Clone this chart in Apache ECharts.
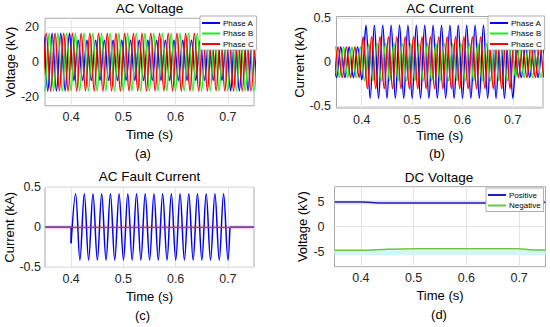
<!DOCTYPE html>
<html>
<head>
<meta charset="utf-8">
<script src="https://cdn.jsdelivr.net/npm/echarts@6/dist/echarts.min.js"></script>
<style>
html,body{margin:0;padding:0;background:#fff;}
#c{width:550px;height:327px;}
</style>
</head>
<body>
<div id="c"></div>
<script>
// ---------- data (extrema) ----------
const timeTicks = [0.4, 0.5, 0.6, 0.7];
const voltTicks = [-20, 0, 20];
const currTicks = [-0.5, 0, 0.5];
const dcTicks = [-5, 0, 5];
const phaseNames = ['Phase A', 'Phase B', 'Phase C'];
const dcNames = ['Positive', 'Negative'];

const voltA = [[0.3386,-16.5],[0.3469,16.5],[0.3553,-16.5],[0.3636,16.5],[0.3719,-16.5],[0.3803,16.5],[0.3886,-16.5],[0.3969,16.5],[0.4053,-10.5],[0.4136,12.5],[0.4219,-10.5],[0.4303,12.5],[0.4386,-10.5],[0.4469,12.5],[0.4553,-10.5],[0.4636,12.5],[0.4719,-10.5],[0.4803,12.5],[0.4886,-10.5],[0.4969,12.5],[0.5053,-10.5],[0.5136,12.5],[0.5219,-10.5],[0.5303,12.5],[0.5386,-10.5],[0.5469,12.5],[0.5553,-10.5],[0.5636,12.5],[0.5719,-10.5],[0.5803,12.5],[0.5886,-10.5],[0.5969,12.5],[0.6053,-10.5],[0.6136,12.5],[0.6219,-10.5],[0.6303,12.5],[0.6386,-10.5],[0.6469,12.5],[0.6553,-10.5],[0.6636,12.5],[0.6719,-10.5],[0.6803,12.5],[0.6886,-10.5],[0.6969,12.5],[0.7053,-16.5],[0.7136,16.5],[0.7219,-16.5],[0.7303,16.5],[0.7386,-16.5],[0.7469,16.5],[0.7553,-16.5]];
const voltB = [[0.3414,16.5],[0.3497,-16.5],[0.3581,16.5],[0.3664,-16.5],[0.3747,16.5],[0.3831,-16.5],[0.3914,16.5],[0.3997,-16.5],[0.4081,16.5],[0.4164,-16.5],[0.4247,16.5],[0.4331,-16.5],[0.4414,16.5],[0.4497,-16.5],[0.4581,16.5],[0.4664,-16.5],[0.4747,16.5],[0.4831,-16.5],[0.4914,16.5],[0.4997,-16.5],[0.5081,16.5],[0.5164,-16.5],[0.5247,16.5],[0.5331,-16.5],[0.5414,16.5],[0.5497,-16.5],[0.5581,16.5],[0.5664,-16.5],[0.5747,16.5],[0.5831,-16.5],[0.5914,16.5],[0.5997,-16.5],[0.6081,16.5],[0.6164,-16.5],[0.6247,16.5],[0.6331,-16.5],[0.6414,16.5],[0.6497,-16.5],[0.6581,16.5],[0.6664,-16.5],[0.6747,16.5],[0.6831,-16.5],[0.6914,16.5],[0.6997,-16.5],[0.7081,16.5],[0.7164,-16.5],[0.7247,16.5],[0.7331,-16.5],[0.7414,16.5],[0.7497,-16.5],[0.7581,16.5]];
const voltC = [[0.3358,16.5],[0.3442,-16.5],[0.3525,16.5],[0.3608,-16.5],[0.3692,16.5],[0.3775,-16.5],[0.3858,16.5],[0.3942,-16.5],[0.4025,16.5],[0.4108,-16.5],[0.4192,16.5],[0.4275,-16.5],[0.4358,16.5],[0.4442,-16.5],[0.4525,16.5],[0.4608,-16.5],[0.4692,16.5],[0.4775,-16.5],[0.4858,16.5],[0.4942,-16.5],[0.5025,16.5],[0.5108,-16.5],[0.5192,16.5],[0.5275,-16.5],[0.5358,16.5],[0.5442,-16.5],[0.5525,16.5],[0.5608,-16.5],[0.5692,16.5],[0.5775,-16.5],[0.5858,16.5],[0.5942,-16.5],[0.6025,16.5],[0.6108,-16.5],[0.6192,16.5],[0.6275,-16.5],[0.6358,16.5],[0.6442,-16.5],[0.6525,16.5],[0.6608,-16.5],[0.6692,16.5],[0.6775,-16.5],[0.6858,16.5],[0.6942,-16.5],[0.7025,16.5],[0.7108,-16.5],[0.7192,16.5],[0.7275,-16.5],[0.7358,16.5],[0.7442,-16.5],[0.7525,16.5]];

const currA = [[0.3418,0.174],[0.3502,-0.174],[0.3585,0.174],[0.3668,-0.174],[0.3752,0.174],[0.3835,-0.174],[0.3918,0.174],[0.4002,-0.2],[0.4085,0.42],[0.4168,-0.41],[0.4252,0.42],[0.4335,-0.41],[0.4418,0.42],[0.4502,-0.41],[0.4585,0.42],[0.4668,-0.41],[0.4752,0.42],[0.4835,-0.41],[0.4918,0.42],[0.5002,-0.41],[0.5085,0.42],[0.5168,-0.41],[0.5252,0.42],[0.5335,-0.41],[0.5418,0.42],[0.5502,-0.41],[0.5585,0.42],[0.5668,-0.41],[0.5752,0.42],[0.5835,-0.41],[0.5918,0.42],[0.6002,-0.41],[0.6085,0.42],[0.6168,-0.41],[0.6252,0.42],[0.6335,-0.41],[0.6418,0.42],[0.6502,-0.41],[0.6585,0.42],[0.6668,-0.41],[0.6752,0.42],[0.6835,-0.41],[0.6918,0.42],[0.7002,-0.41],[0.7085,0.174],[0.7168,-0.174],[0.7252,0.174],[0.7335,-0.174],[0.7418,0.174],[0.7502,-0.174],[0.7585,0.174],[0.7668,-0.174]];
const currB = [[0.3391,-0.174],[0.3474,0.174],[0.3557,-0.174],[0.3641,0.174],[0.3724,-0.174],[0.3807,0.174],[0.3891,-0.174],[0.3974,0.174],[0.4057,-0.21],[0.4141,0.21],[0.4224,-0.21],[0.4307,0.21],[0.4391,-0.21],[0.4474,0.21],[0.4557,-0.21],[0.4641,0.21],[0.4724,-0.21],[0.4807,0.21],[0.4891,-0.21],[0.4974,0.21],[0.5057,-0.21],[0.5141,0.21],[0.5224,-0.21],[0.5307,0.21],[0.5391,-0.21],[0.5474,0.21],[0.5557,-0.21],[0.5641,0.21],[0.5724,-0.21],[0.5807,0.21],[0.5891,-0.21],[0.5974,0.21],[0.6057,-0.21],[0.6141,0.21],[0.6224,-0.21],[0.6307,0.21],[0.6391,-0.21],[0.6474,0.21],[0.6557,-0.21],[0.6641,0.21],[0.6724,-0.21],[0.6807,0.21],[0.6891,-0.21],[0.6974,0.21],[0.7057,-0.174],[0.7141,0.174],[0.7224,-0.174],[0.7307,0.174],[0.7391,-0.174],[0.7474,0.174],[0.7557,-0.174],[0.7641,0.174]];
const currC = [[0.3363,0.174],[0.3447,-0.174],[0.3530,0.174],[0.3613,-0.174],[0.3697,0.174],[0.3780,-0.174],[0.3863,0.174],[0.3947,-0.174],[0.4030,0.29],[0.4113,-0.30],[0.4197,0.29],[0.4280,-0.30],[0.4363,0.29],[0.4447,-0.30],[0.4530,0.29],[0.4613,-0.30],[0.4697,0.29],[0.4780,-0.30],[0.4863,0.29],[0.4947,-0.30],[0.5030,0.29],[0.5113,-0.30],[0.5197,0.29],[0.5280,-0.30],[0.5363,0.29],[0.5447,-0.30],[0.5530,0.29],[0.5613,-0.30],[0.5697,0.29],[0.5780,-0.30],[0.5863,0.29],[0.5947,-0.30],[0.6030,0.29],[0.6113,-0.30],[0.6197,0.29],[0.6280,-0.30],[0.6363,0.29],[0.6447,-0.30],[0.6530,0.29],[0.6613,-0.30],[0.6697,0.29],[0.6780,-0.30],[0.6863,0.29],[0.6947,-0.30],[0.7030,0.25],[0.7113,-0.174],[0.7197,0.174],[0.7280,-0.174],[0.7363,0.174],[0.7447,-0.174],[0.7530,0.174],[0.7613,-0.174]];

const faultA = [[0.4000,-0.2],[0.4085,0.42],[0.4168,-0.41],[0.4252,0.42],[0.4335,-0.41],[0.4418,0.42],[0.4502,-0.41],[0.4585,0.42],[0.4668,-0.41],[0.4752,0.42],[0.4835,-0.41],[0.4918,0.42],[0.5002,-0.41],[0.5085,0.42],[0.5168,-0.41],[0.5252,0.42],[0.5335,-0.41],[0.5418,0.42],[0.5502,-0.41],[0.5585,0.42],[0.5668,-0.41],[0.5752,0.42],[0.5835,-0.41],[0.5918,0.42],[0.6002,-0.41],[0.6085,0.42],[0.6168,-0.41],[0.6252,0.42],[0.6335,-0.41],[0.6418,0.42],[0.6502,-0.41],[0.6585,0.42],[0.6668,-0.41],[0.6752,0.42],[0.6835,-0.41],[0.6918,0.42],[0.7002,-0.41],[0.7040,0]];
const faultStep = [[0.35,0],[0.40,0],[0.40,-0.2]];
const faultTail = [[0.704,0],[0.75,0]];
const faultOther = [[0.35,0],[0.75,0]];

const dcPos = [[0.35,4.95],[0.40,4.95],[0.42,4.85],[0.44,4.75],[0.50,4.72],[0.60,4.72],[0.70,4.72],[0.72,4.85],[0.75,4.9]];
const dcNeg = [[0.35,-4.7],[0.40,-4.7],[0.45,-4.5],[0.50,-4.4],[0.60,-4.4],[0.70,-4.4],[0.72,-4.6],[0.75,-4.65]];
const dcPosRipple = [[0.35,4.85],[0.75,4.85]];
const dcNegRipple = [[0.35,-5.2],[0.75,-5.2]];

// ---------- styling ----------
const FONT = "'Liberation Sans', Arial, Helvetica, sans-serif";
const C_BLUE = '#0000ff', C_GREEN = '#1ee81e', C_RED = '#ff0000';
const C_DCPOS = '#1f1fb4', C_DCNEG = '#6cc644';

function xAx(i, max, gap) {
  return {
    gridIndex: i, type: 'value', min: 0.35, max: max,
    name: 'Time (s)', nameLocation: 'middle', nameGap: gap,
    nameTextStyle: {fontSize: 13, color: '#000', fontFamily: FONT},
    axisLine: {show: false}, axisTick: {show: false, customValues: timeTicks},
    axisLabel: {customValues: timeTicks, fontSize: 12.5, color: '#262626', fontFamily: FONT, margin: 5,
      formatter: v => v.toFixed(1)},
    splitLine: {show: true, lineStyle: {color: '#e4e4e4', width: 1}}
  };
}
function yAx(i, min, max, ticks, name, gap, margin, fmt) {
  return {
    gridIndex: i, type: 'value', min: min, max: max,
    name: name, nameLocation: 'middle', nameGap: gap,
    nameTextStyle: {fontSize: 13, color: '#000', fontFamily: FONT},
    axisLine: {show: false}, axisTick: {show: false, customValues: ticks},
    axisLabel: {customValues: ticks, fontSize: 12.5, color: '#262626', fontFamily: FONT, margin: margin, formatter: fmt},
    splitLine: {show: true, lineStyle: {color: '#e4e4e4', width: 1}}
  };
}
const fmtInt = v => String(Math.round(v));
const fmtHalf = v => (v === 0 ? '0' : String(v));

function wave(name, data, color, xi, smooth) {
  return {name: name, type: 'line', xAxisIndex: xi, yAxisIndex: xi, data: data,
    showSymbol: false, symbol: 'none', smooth: smooth, clip: true,
    color: color, lineStyle: {color: color, width: 1.5}, silent: true};
}
function legendCfg(names, left, top) {
  return {data: names, left: left, top: top, orient: 'vertical', icon: 'rect',
    itemWidth: 18, itemHeight: 2, itemGap: 2.5, selectedMode: false,
    textStyle: {fontSize: 8, color: '#000', fontFamily: FONT, padding: [0,0,0,-2]},
    backgroundColor: '#fff', borderColor: '#9a9a9a', borderWidth: 0.8, padding: [3, 3, 2, 2]};
}
function txt(text, x, y, size) {
  return {type: 'text', x: x, y: y, silent: true,
    style: {text: text, fontSize: size, fontFamily: FONT, fill: '#000', align: 'center', verticalAlign: 'middle'}};
}

const chart = echarts.init(document.getElementById('c'), null, {renderer: 'svg', width: 550, height: 327});
const gridStyle = {show: true, borderColor: '#a8a8a8', borderWidth: 1, backgroundColor: 'transparent', containLabel: false};

chart.setOption({
  animation: false,
  backgroundColor: '#fff',
  grid: [
    Object.assign({left: 45, top: 18.25, width: 209, height: 87.5}, gridStyle),
    Object.assign({left: 336.5, top: 16.5, width: 206.5, height: 91.5}, gridStyle),
    Object.assign({left: 45, top: 187.3, width: 209, height: 80}, gridStyle),
    Object.assign({left: 334.5, top: 186.7, width: 211, height: 80}, gridStyle)
  ],
  xAxis: [xAx(0, 0.75, 22), xAx(1, 0.76, 21), xAx(2, 0.75, 23), xAx(3, 0.75, 22)],
  yAxis: [
    yAx(0, -25, 25, voltTicks, 'Voltage (kV)', 25, 6, fmtInt),
    yAx(1, -0.52, 0.52, currTicks, 'Current (kA)', 26, 5.5, fmtHalf),
    yAx(2, -0.5, 0.5, currTicks, 'Current (kA)', 29, 4, fmtHalf),
    yAx(3, -8, 8, dcTicks, 'Voltage (kV)', 24, 10, fmtInt)
  ],
  legend: [legendCfg(phaseNames, 200, 16), legendCfg(phaseNames, 488, 16), legendCfg(dcNames, 486, 188)],
  graphic: [
    txt('AC Voltage', 149.5, 8.5, 13.5),
    txt('AC Current', 440, 8.5, 13.5),
    txt('AC Fault Current', 149.5, 176, 13.5),
    txt('DC Voltage', 439, 177, 13.5),
    txt('(a)', 143, 153, 13),
    txt('(b)', 437, 153, 13),
    txt('(c)', 142.5, 315, 13),
    txt('(d)', 439, 314, 13)
  ],
  series: [
    wave(phaseNames[0], voltA, C_BLUE, 0, 0.36),
    wave(phaseNames[1], voltB, C_GREEN, 0, 0.36),
    wave(phaseNames[2], voltC, C_RED, 0, 0.36),
    wave(phaseNames[0], currA, C_BLUE, 1, 0.36),
    wave(phaseNames[1], currB, C_GREEN, 1, 0.36),
    wave(phaseNames[2], currC, C_RED, 1, 0.36),
    Object.assign(wave('fault halo', faultOther, '#fbd3d3', 2, false), {lineStyle: {color: '#fbd3d3', width: 4}}),
    wave('fault A step', faultStep, C_BLUE, 2, false),
    wave('fault A', faultA, C_BLUE, 2, 0.36),
    wave('fault A tail', faultTail, C_BLUE, 2, false),
    Object.assign(wave('fault B/C', faultOther, '#c0451a', 2, false), {lineStyle: {color: '#c0451a', width: 1.3}}),
    Object.assign(wave('pos ripple', dcPosRipple, '#e2e2f2', 3, false), {lineStyle: {color: '#e2e2f2', width: 4}}),
    Object.assign(wave('neg ripple', dcNegRipple, '#d4f5f5', 3, false), {lineStyle: {color: '#d4f5f5', width: 5}}),
    wave(dcNames[0], dcPos, C_DCPOS, 3, 0.3),
    wave(dcNames[1], dcNeg, C_DCNEG, 3, 0.3)
  ]
});
</script>
</body>
</html>
